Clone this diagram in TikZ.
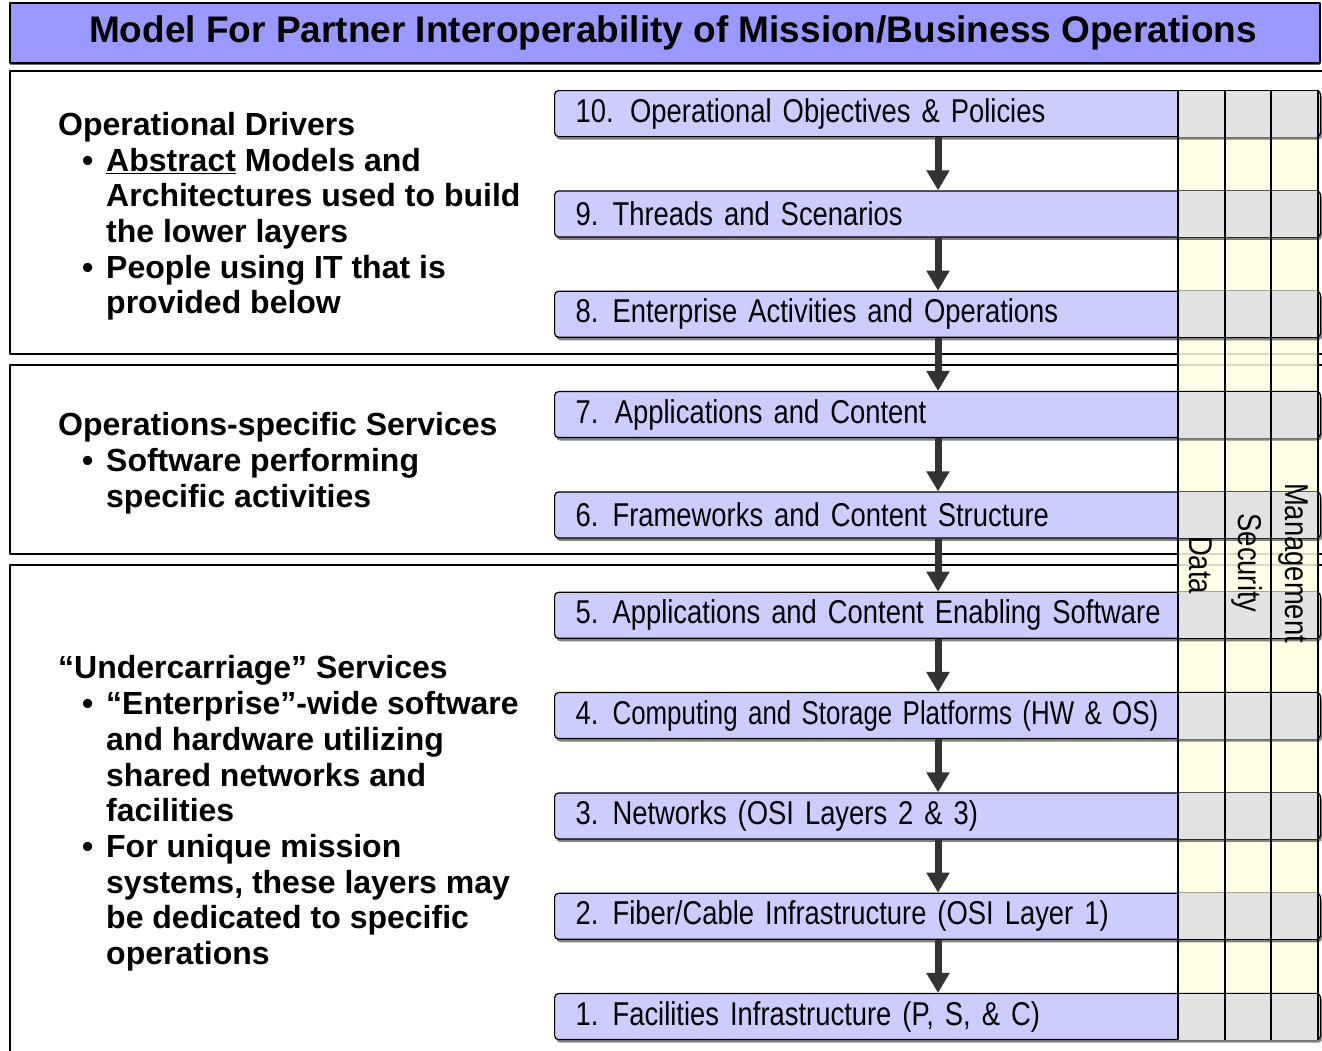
\documentclass[tikz,border=0pt]{standalone}
\usepackage{fontspec}
\usepackage{graphicx}
\setmainfont{Liberation Sans}
\newfontfamily\narrowfont[FakeStretch=0.83]{Liberation Sans}
\usetikzlibrary{arrows.meta, positioning, shadows}
\definecolor{titleblue}{RGB}{153,153,255}
\definecolor{layerblue}{RGB}{204,204,255}
\definecolor{cellgray}{RGB}{226,226,226}
\definecolor{colyellow}{RGB}{255,255,224}
\definecolor{arrowgray}{RGB}{51,51,51}
\newcommand{\nb}[1]{\makebox[37pt][l]{#1}}
\newcommand{\bul}{\hspace*{24pt}\makebox[24pt][l]{•}}
\newcommand{\cnt}{\hspace*{48pt}}
\def\rowsep{100.33}

\begin{document}
\begin{tikzpicture}[x=1pt,y=-1pt,line join=round]
    \tikzstyle{frame}=[draw=black, line width=1.5pt]
    \tikzstyle{titlebox}=[draw=black, line width=2pt, fill=titleblue, minimum width=1310pt, minimum height=60pt, inner sep=0pt, font=\bfseries\fontsize{37}{40}\selectfont, drop shadow={shadow xshift=0pt, shadow yshift=-1.5pt, opacity=0.8, fill=black!70}]
    \tikzstyle{layer}=[draw=black, line width=1.2pt, fill=layerblue, rounded corners=4pt, anchor=north west, minimum width=766pt, minimum height=46pt, text width=724pt, inner xsep=21pt, inner ysep=0pt, align=left, font=\narrowfont\fontsize{33}{36}\selectfont, drop shadow={shadow xshift=1.5pt, shadow yshift=-3pt, opacity=0.7, fill=black!70}]
    \tikzstyle{drivertext}=[anchor=north west, inner sep=0pt, align=left, font=\bfseries\fontsize{32}{35.7}\selectfont]
    \tikzstyle{collabel}=[rotate=-90, inner sep=0pt, font=\narrowfont\fontsize{33}{36}\selectfont]
    \tikzstyle{flow}=[draw=arrowgray, line width=7pt, -{Triangle[width=22pt,length=20pt]}]

    \useasboundingbox (0,0) rectangle (1322,1050);
    \clip (0,0) rectangle (1322,1050);

    % Title bar
    \node[titlebox] (title) at (665,33) {\hspace*{16pt}Model For Partner Interoperability of Mission/Business Operations};

    % Section frames
    \draw[frame] (10,71) rectangle (1330,354);
    \draw[frame] (10,365) rectangle (1330,554);
    \draw[frame] (10,565) rectangle (1330,1070);

    % Section texts
    \node[drivertext] (drv) at (58,112) {Operational Drivers\\
        \bul\underline{Abstract} Models and\\
        \cnt Architectures used to build\\
        \cnt the lower layers\\
        \bul People using IT that is\\
        \cnt provided below};
    \node[drivertext] (ops) at (58,412.5) {Operations-specific Services\\
        \bul Software performing\\
        \cnt specific activities};
    \node[drivertext] (uc) at (58,655.5) {“Undercarriage” Services\\
        \bul “Enterprise”-wide software\\
        \cnt and hardware utilizing\\
        \cnt shared networks and\\
        \cnt facilities\\
        \bul For unique mission\\
        \cnt systems, these layers may\\
        \cnt be dedicated to specific\\
        \cnt operations};

    % Cross-cutting columns
    \fill[colyellow, opacity=0.85] (1178,90) rectangle (1318,1038);

    % Draw the layers
    \foreach \k/\txt in {10/{10. Operational Objectives \& Policies},
                         9/{\nb{9.}Threads and Scenarios},
                         8/{\nb{8.}Enterprise Activities and Operations},
                         7/{7. Applications and Content},
                         6/{\nb{6.}Frameworks and Content Structure},
                         5/{\nb{5.}Applications and Content Enabling Software},
                         4/{\nb{4.}\scalebox{0.945}[1]{Computing and Storage Platforms (HW \& OS)}},
                         3/{\nb{3.}Networks (OSI Layers 2 \& 3)},
                         2/{\nb{2.}Fiber/Cable Infrastructure (OSI Layer 1)},
                         1/{\nb{1.}Facilities Infrastructure (P, S, \& C)}}
        \node[layer] (L-\k) at (554,{90+(10-\k)*\rowsep}) {\txt};

    \coordinate (col-a) at (1178,0);
    \coordinate (col-d) at (1318,0);
    \coordinate (arr-x) at (938,0);

    \foreach \k in {1,...,10}
        \fill[cellgray] ([yshift=-0.6pt]L-\k.north -| col-a) rectangle ([yshift=0.6pt]L-\k.south -| col-d);

    \foreach \x in {1178,1225,1271,1318}
        \draw[line width=1.2pt] (L-10.north -| \x,0) -- (L-1.south -| \x,0);

    \node[collabel] (data) at (1201,565) {Data};
    \node[collabel] (security) at (1247,563) {Security};
    \node[collabel] (management) at (1293,563) {Management};

    % Arrows between the layers
    \foreach \a/\b in {10/9,9/8,8/7,7/6,6/5,5/4,4/3,3/2,2/1}
        \draw[flow] (L-\a.south -| arr-x) -- (L-\b.north -| arr-x);
\end{tikzpicture}
\end{document}
